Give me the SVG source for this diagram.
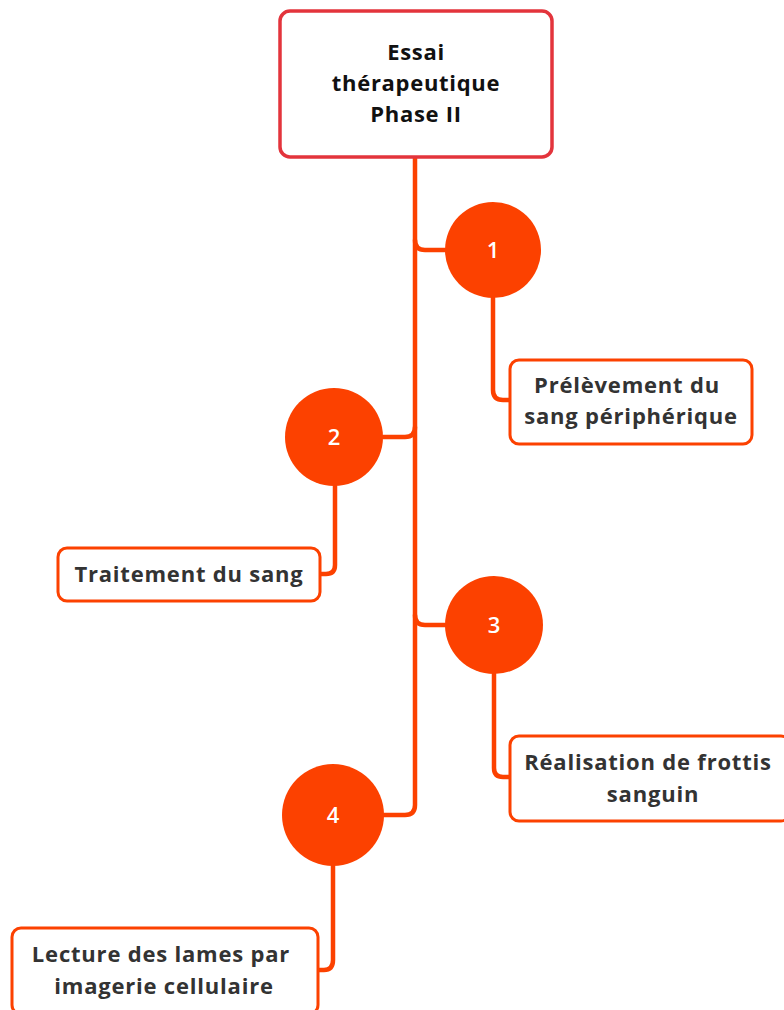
<svg xmlns="http://www.w3.org/2000/svg" width="784" height="1010" viewBox="0 0 784 1010">
<style>
.conn{fill:none;stroke:#fc4100;stroke-width:4.5;stroke-linecap:round;stroke-linejoin:round}
.circ{fill:#fc4100}
.num{font-family:"Open Sans","Liberation Sans",sans-serif;font-size:22px;font-weight:600;fill:#fff;text-anchor:middle}
.box{fill:#fff;stroke:#fc4100;stroke-width:3}
.lbl{font-family:"Open Sans","Liberation Sans",sans-serif;font-size:22px;font-weight:bold;fill:#333;text-anchor:middle;letter-spacing:0.8px}
.root{fill:#fff;stroke:#e3343c;stroke-width:3.5}
.rtxt{font-family:"Open Sans","Liberation Sans",sans-serif;font-size:22px;font-weight:bold;fill:#111;text-anchor:middle;letter-spacing:0.7px}
</style>
<rect width="784" height="1010" fill="#fff"/>
<g id="connectors">
<path class="conn" d="M415,157 V805 Q415,815 405,815 H383"/>
<path class="conn" d="M415,240 Q415,250 425,250 H445"/>
<path class="conn" d="M383,437 H405 Q415,437 415,427"/>
<path class="conn" d="M415,615 Q415,625 425,625 H445"/>
<path class="conn" d="M493,298 V390 Q493,400 503,400 H510"/>
<path class="conn" d="M335,486 V565 Q335,574 326,574 H320"/>
<path class="conn" d="M494,674 V768 Q494,777 503,777 H510"/>
<path class="conn" d="M333,866 V960 Q333,970 324,970 H318"/>
</g>
<g id="root">
<rect class="root" x="280" y="11" width="272" height="146" rx="10"/>
<text class="rtxt" x="416" y="60">Essai</text>
<text class="rtxt" x="416" y="91">thérapeutique</text>
<text class="rtxt" x="416" y="122">Phase II</text>
</g>
<g id="n1">
<circle class="circ" cx="493" cy="250" r="48"/>
<text class="num" x="493" y="258">1</text>
</g>
<g id="n2">
<circle class="circ" cx="334" cy="437" r="49"/>
<text class="num" x="334" y="445">2</text>
</g>
<g id="n3">
<circle class="circ" cx="494" cy="625" r="49"/>
<text class="num" x="494" y="633">3</text>
</g>
<g id="n4">
<circle class="circ" cx="333" cy="815" r="51"/>
<text class="num" x="333" y="823">4</text>
</g>
<g id="b1">
<rect class="box" x="510" y="360" width="242" height="84" rx="9"/>
<text class="lbl" x="627" y="393">Prélèvement du</text>
<text class="lbl" x="631" y="424">sang périphérique</text>
</g>
<g id="b2">
<rect class="box" x="58" y="548" width="262" height="53" rx="9"/>
<text class="lbl" x="189" y="582">Traitement du sang</text>
</g>
<g id="b3">
<rect class="box" x="510" y="736" width="280" height="85" rx="9"/>
<text class="lbl" x="648" y="770">Réalisation de frottis</text>
<text class="lbl" x="653" y="802">sanguin</text>
</g>
<g id="b4">
<rect class="box" x="12" y="928" width="306" height="86" rx="9"/>
<text class="lbl" x="161" y="962">Lecture des lames par</text>
<text class="lbl" x="164" y="994">imagerie cellulaire</text>
</g>
</svg>
